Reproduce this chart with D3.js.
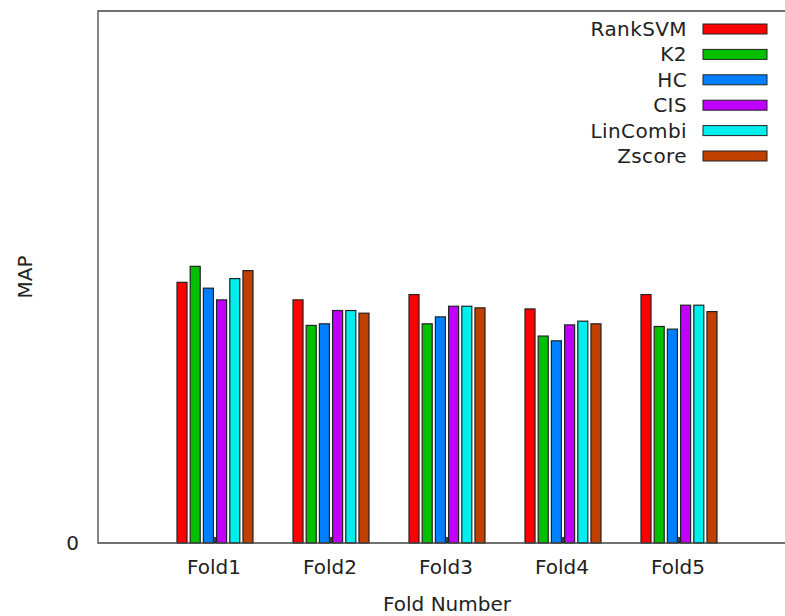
<!DOCTYPE html>
<html>
<head>
<meta charset="utf-8">
<script src="https://cdn.jsdelivr.net/npm/d3@7"></script>
<style>
  body { margin: 0; background: #fff; }
  svg { display: block; font-family: "DejaVu Sans", sans-serif; }
</style>
</head>
<body>
<svg id="chart" width="785" height="616"></svg>
<script>
const folds = ["Fold1", "Fold2", "Fold3", "Fold4", "Fold5"];
const methods = ["RankSVM", "K2", "HC", "CIS", "LinCombi", "Zscore"];
const colors = ["#ff0000", "#00c000", "#0080ff", "#c000ff", "#00eeee", "#c04000"];
// MAP per method, one value per fold
const rankSVM = [0.490, 0.457, 0.467, 0.440, 0.467];
const k2 = [0.520, 0.409, 0.412, 0.389, 0.407];
const hc = [0.479, 0.412, 0.425, 0.380, 0.402];
const cis = [0.457, 0.437, 0.445, 0.410, 0.447];
const linCombi = [0.497, 0.437, 0.445, 0.417, 0.447];
const zscore = [0.512, 0.432, 0.442, 0.412, 0.435];
const yTicks = [0];

const series = [rankSVM, k2, hc, cis, linCombi, zscore];
const svg = d3.select("#chart");
const plotLeft = 98, plotTop = 11, plotBottom = 543, unit = 116;

// gnuplot style: folds sit at 1..5, x range 0..6 (right edge falls off the page)
const x = d3.scaleLinear().domain([0, 6]).range([plotLeft + 1, plotLeft + 1 + 6 * unit]);
const y = d3.scaleLinear().domain([0, 1]).range([plotBottom, plotTop]);
const inner = d3.scaleBand().domain(methods).range([-38, 38]).paddingInner(0.24);

const rows = [];
folds.forEach((f, i) => {
    methods.forEach((m, j) => {
        rows.push({fold: i + 1, method: m, value: series[j][i], color: colors[j]});
    });
});

svg.append("g").selectAll("rect")
    .data(rows)
    .join("rect")
    .attr("x", d => x(d.fold) + inner(d.method))
    .attr("y", d => y(d.value))
    .attr("width", inner.bandwidth())
    .attr("height", d => y(0) - y(d.value))
    .attr("fill", d => d.color)
    .attr("stroke", "#222")
    .attr("stroke-width", 1.2);

// frame
svg.append("path")
    .attr("d", `M${x(6)},${plotTop}H${plotLeft}V${plotBottom}H${x(6)}`)
    .attr("fill", "none")
    .attr("stroke", "#444")
    .attr("stroke-width", 1.3);

// x ticks and labels
const xAxis = svg.append("g");
folds.forEach((f, i) => {
    xAxis.append("line")
        .attr("x1", x(i + 1)).attr("x2", x(i + 1))
        .attr("y1", plotBottom).attr("y2", plotBottom - 6)
        .attr("stroke", "#000")
        .attr("stroke-width", 1.5);
    xAxis.append("text")
        .attr("x", x(i + 1) - 1)
        .attr("y", 574)
        .attr("text-anchor", "middle")
        .attr("font-size", 20)
        .attr("fill", "#222")
        .text(f);
});

svg.append("g").selectAll("text")
    .data(yTicks)
    .join("text")
    .attr("x", 79)
    .attr("y", d => y(d) + 7)
    .attr("text-anchor", "end")
    .attr("font-size", 20)
    .attr("fill", "#222")
    .text(d => d);

svg.append("text")
    .attr("x", x(3))
    .attr("y", 611)
    .attr("text-anchor", "middle")
    .attr("font-size", 20)
    .attr("fill", "#222")
    .text("Fold Number");

svg.append("text")
    .attr("transform", `translate(32,${(plotTop + plotBottom) / 2}) rotate(-90)`)
    .attr("text-anchor", "middle")
    .attr("font-size", 20)
    .attr("fill", "#222")
    .text("MAP");

// legend
const legend = svg.append("g");
methods.forEach((m, i) => {
    const cy = 29 + i * 25.4;
    legend.append("text")
        .attr("x", 687)
        .attr("y", cy + 7)
        .attr("text-anchor", "end")
        .attr("font-size", 20)
        .attr("letter-spacing", 0.4)
        .attr("fill", "#222")
        .text(m);
    legend.append("rect")
        .attr("x", 703)
        .attr("y", cy - 5)
        .attr("width", 64)
        .attr("height", 10)
        .attr("fill", colors[i])
        .attr("stroke", "#222");
});
</script>
</body>
</html>
